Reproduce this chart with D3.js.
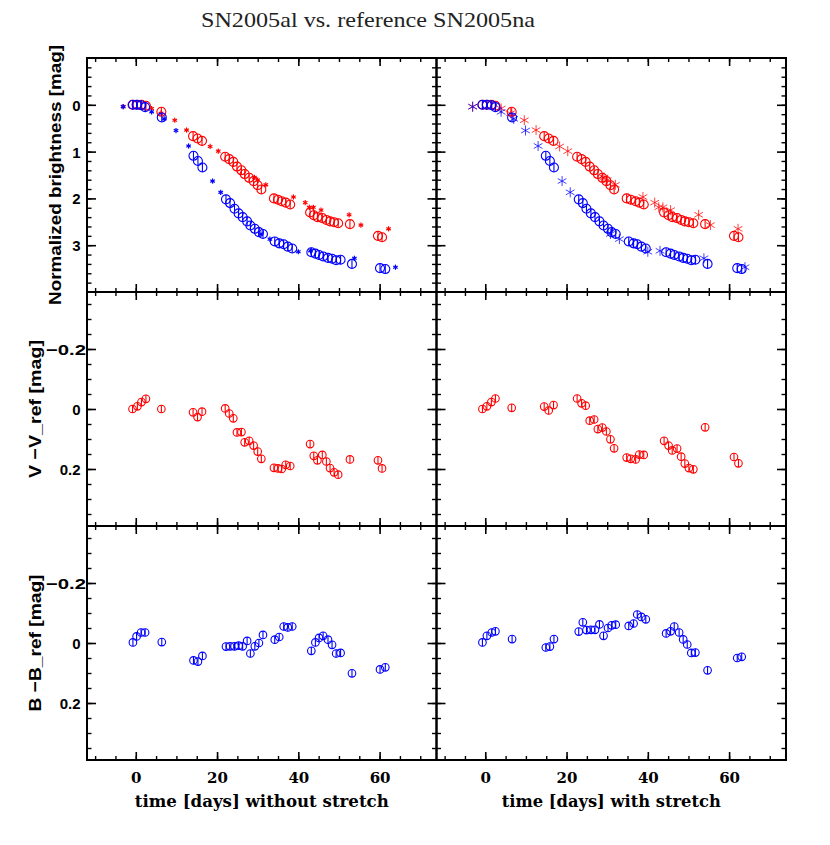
<!DOCTYPE html>
<html>
<head>
<meta charset="utf-8">
<script src="https://cdn.jsdelivr.net/npm/d3@7"></script>
<style>
  body { margin: 0; background: #fff; }
  svg { display: block; }
</style>
</head>
<body>
<div id="chart"></div>
<script>
// SN2005al data (V and B), times without / with stretch
const vTime = [-0.8,0.4,1.4,2.5,6.3,14.1,15.2,16.3,22.0,23.0,24.0,24.9,26.0,26.8,27.9,29.0,30.0,30.9,34.0,35.0,35.9,36.9,38.0,42.9,43.8,44.7,45.9,46.9,47.8,48.8,49.8,52.7,59.6,60.6]
const vTimeStretch = [-0.7,0.4,1.5,2.5,6.5,14.5,15.6,16.8,22.6,23.7,24.7,25.7,26.8,27.7,28.8,29.8,30.8,31.7,34.8,35.8,37.0,37.9,39.0,44.0,45.1,46.0,47.2,48.2,49.1,50.1,51.2,54.1,61.2,62.3]
const vMag = [0.00,0.00,0.00,0.02,0.15,0.67,0.72,0.77,1.11,1.16,1.22,1.32,1.40,1.48,1.56,1.63,1.72,1.81,2.00,2.03,2.06,2.09,2.13,2.30,2.36,2.40,2.42,2.46,2.49,2.51,2.53,2.55,2.80,2.83]
const vResid = [0.0,-0.009,-0.023,-0.034,0.0,0.011,0.027,0.009,-0.002,0.015,0.031,0.078,0.077,0.111,0.106,0.122,0.142,0.166,0.196,0.198,0.2,0.186,0.19,0.117,0.156,0.171,0.153,0.175,0.197,0.211,0.219,0.168,0.171,0.198]
const vResidStretch = [0.0,-0.009,-0.023,-0.035,-0.004,-0.008,0.005,-0.013,-0.035,-0.019,-0.011,0.039,0.035,0.067,0.062,0.075,0.101,0.131,0.162,0.166,0.168,0.152,0.153,0.106,0.122,0.138,0.132,0.159,0.182,0.197,0.201,0.061,0.16,0.181]

const bTime = [-0.7,0.2,1.3,2.3,6.4,14.2,15.3,16.4,22.2,23.2,24.3,25.3,26.3,27.4,28.2,29.3,30.3,31.3,34.2,35.3,36.4,37.4,38.5,43.2,44.2,45.1,46.1,47.3,48.3,49.3,50.4,53.2,60.1,61.4]
const bTimeStretch = [-0.7,0.4,1.6,2.5,6.6,14.9,15.9,16.9,23.0,24.0,24.9,26.0,27.0,28.1,29.1,30.2,31.1,32.1,35.3,36.5,37.4,38.4,39.5,44.5,45.6,46.5,47.7,48.7,49.7,50.7,51.7,54.7,62.0,63.1]
const bMag = [0.00,0.00,0.01,0.05,0.27,1.09,1.20,1.34,2.02,2.10,2.22,2.32,2.40,2.49,2.58,2.65,2.72,2.76,2.92,2.96,2.98,3.03,3.07,3.15,3.18,3.21,3.24,3.27,3.29,3.32,3.31,3.40,3.49,3.51]
const bResid = [-0.002,-0.022,-0.035,-0.035,-0.003,0.058,0.062,0.043,0.012,0.011,0.011,0.009,0.011,-0.007,0.035,0.011,0.0,-0.027,-0.011,-0.02,-0.055,-0.052,-0.055,0.026,-0.002,-0.017,-0.024,-0.011,0.006,0.035,0.033,0.101,0.088,0.081]
const bResidStretch = [-0.002,-0.024,-0.035,-0.039,-0.013,0.015,0.012,-0.013,-0.038,-0.069,-0.043,-0.044,-0.044,-0.062,-0.024,-0.05,-0.059,-0.061,-0.057,-0.065,-0.095,-0.087,-0.079,-0.032,-0.039,-0.055,-0.035,-0.012,0.005,0.033,0.032,0.091,0.05,0.046]

// reference SN2005na template points
const refVTime = [-3.1,3.9,6.2,9.6,12.5,18.3,20.3,29.2,30.0,32.0,38.8,41.7,42.7,43.7,45.6,52.5,55.4,62.2]
const refVMag = [0.04,0.08,0.18,0.33,0.54,0.89,0.99,1.55,1.61,1.71,1.97,2.09,2.19,2.19,2.25,2.35,2.57,2.65]
const refBTime = [-3.1,3.9,7.0,9.9,13.0,18.9,20.9,30.8,33.0,40.0,43.0,53.8,63.9]
const refBMag = [0.04,0.15,0.30,0.55,0.88,1.63,1.87,2.76,2.87,3.14,3.12,3.28,3.47]

const xMajor = [0, 20, 40, 60]
const magTicks = [0, 1, 2, 3]
const residTicks = [-0.2, 0, 0.2]
const xLabels = ["time [days] without stretch", "time [days] with stretch"]
const yLabels = ["Normalized brightness [mag]", "V \u2212V_ref [mag]", "B \u2212B_ref [mag]"]
const title = "SN2005al vs. reference SN2005na"

const WIDTH = 830, HEIGHT = 845
const LEFT = 87, TOP = 58
const PW = 349.5, PH = 234
const RED = "#ff0000", BLUE = "#0000ff"

const svg = d3.select("#chart").append("svg")
    .attr("width", WIDTH)
    .attr("height", HEIGHT)

svg.append("text")
    .attr("x", 368)
    .attr("y", 27)
    .attr("text-anchor", "middle")
    .attr("font-family", "Liberation Serif, serif")
    .attr("font-size", 22)
    .attr("fill", "#222")
    .attr("textLength", 334)
    .attr("lengthAdjust", "spacingAndGlyphs")
    .text(title)

const x = d3.scaleLinear().domain([-12, 74]).range([0, PW])
const yMag = d3.scaleLinear().domain([-1, 4]).range([0, PH])
const yRes = d3.scaleLinear().domain([-0.39, 0.39]).range([0, PH])

const fmt = d => Number.isInteger(d) ? String(d) : d3.format(".1f")(d).replace("-", "\u2212")

function drawPanel(col, row, yScale, major, minor, series, refs, big) {
    const g = svg.append("g")
        .attr("transform", `translate(${LEFT + col * PW}, ${TOP + row * PH})`)

    // minor ticks
    const minorX = d3.range(-10, 75, 5)
    ;[
        [d3.axisBottom(x).tickValues(minorX).tickSize(-4), `translate(0,${PH})`],
        [d3.axisTop(x).tickValues(minorX).tickSize(-4), null],
        [d3.axisLeft(yScale).tickValues(minor).tickSize(-4.5), null],
        [d3.axisRight(yScale).tickValues(minor).tickSize(-4.5), `translate(${PW},0)`]
    ].forEach(([ax, tr]) => {
        const a = g.append("g").call(ax.tickFormat(""))
        if (tr) a.attr("transform", tr)
        a.select(".domain").remove()
        a.selectAll("line").attr("stroke-width", 1.4)
    })

    // major ticks
    const xb = g.append("g").attr("transform", `translate(0,${PH})`)
        .call(d3.axisBottom(x).tickValues(xMajor).tickSize(-8).tickPadding(12)
            .tickFormat(row === 2 ? d3.format("d") : ""))
    const xt = g.append("g").call(d3.axisTop(x).tickValues(xMajor).tickSize(-8).tickFormat(""))
    const yl = g.append("g")
        .call(d3.axisLeft(yScale).tickValues(major).tickSize(-9).tickPadding(6.5)
            .tickFormat(col === 0 ? fmt : ""))
    const yr = g.append("g").attr("transform", `translate(${PW},0)`)
        .call(d3.axisRight(yScale).tickValues(major).tickSize(-9).tickFormat(""))
    ;[xb, xt, yl, yr].forEach(a => {
        a.select(".domain").remove()
        a.selectAll("line").attr("stroke-width", 1.6)
    })
    xb.selectAll("text")
        .attr("font-family", "DejaVu Serif, serif")
        .attr("font-weight", "bold")
        .attr("font-size", 15)
        .attr("fill", "#000")
    yl.selectAll("text")
        .attr("font-family", "Liberation Sans, Arial, sans-serif")
        .attr("font-weight", "bold")
        .attr("font-size", 15)
        .attr("dy", "0.36em")
        .attr("fill", "#000")
        .attr("textLength", d => d < 0 ? 40 : null)
        .attr("lengthAdjust", "spacingAndGlyphs")
        .attr("x", d => d < 0 ? -1 : -6.5)

    // reference asterisks
    const s = big ? 5 : 2.6
    refs.forEach(r => {
        r.t.forEach((t, i) => {
            const a = g.append("g")
                .attr("transform", `translate(${x(t)},${yScale(r.m[i])})`)
                .attr("stroke", r.color)
                .attr("stroke-width", big ? 1 : 1.2)
                .attr("stroke-opacity", big ? 0.75 : 1)
            a.append("line").attr("x1", 0).attr("x2", 0).attr("y1", -s).attr("y2", s)
            a.append("line").attr("x1", -s * 0.87).attr("x2", s * 0.87).attr("y1", -s / 2).attr("y2", s / 2)
            a.append("line").attr("x1", -s * 0.87).attr("x2", s * 0.87).attr("y1", s / 2).attr("y2", -s / 2)
        })
    })

    // data circles with error bars
    const rad = row === 0 ? 4.5 : 3.8
    series.forEach(sr => {
        const pts = g.selectAll(null)
            .data(sr.t.map((t, i) => ({ t: t, v: sr.v[i] })))
            .enter().append("g")
            .attr("transform", d => `translate(${x(d.t)},${yScale(d.v)})`)
            .attr("stroke", sr.color)
            .attr("fill", "none")
            .attr("stroke-width", 1.1)
        pts.append("circle").attr("r", rad)
        pts.append("line").attr("x1", 0).attr("x2", 0).attr("y1", -rad).attr("y2", rad)
    })

    // frame
    g.append("rect")
        .attr("width", PW).attr("height", PH)
        .attr("fill", "none")
        .attr("stroke", "#000")
        .attr("stroke-width", 2)

    if (row === 2) {
        g.append("text")
            .attr("x", PW / 2)
            .attr("y", PH + 47)
            .attr("text-anchor", "middle")
            .attr("font-family", "DejaVu Serif, serif")
            .attr("font-weight", "bold")
            .attr("font-size", 16)
            .attr("textLength", col === 0 ? 254 : 219)
            .attr("lengthAdjust", "spacingAndGlyphs")
            .text(xLabels[col])
    }
    if (col === 0) {
        const bx = row === 0 ? 61 : 41
        g.append("text")
            .attr("transform", `translate(${bx - LEFT},${PH / 2}) rotate(-90)`)
            .attr("text-anchor", "middle")
            .attr("font-family", "Liberation Sans, Arial, sans-serif")
            .attr("font-weight", "bold")
            .attr("font-size", 17)
            .attr("textLength", [260, 138, 137][row])
            .attr("lengthAdjust", "spacingAndGlyphs")
            .text(yLabels[row])
    }
}

const magMinor = d3.range(-0.8, 4, 0.2).map(d => +d.toFixed(1))
const resMinor = d3.range(-0.35, 0.36, 0.05).map(d => +d.toFixed(2))

const refs = [
    { t: refVTime, m: refVMag, color: RED },
    { t: refBTime, m: refBMag, color: BLUE }
]

drawPanel(0, 0, yMag, magTicks, magMinor,
    [{ t: vTime, v: vMag, color: RED }, { t: bTime, v: bMag, color: BLUE }], refs, false)
drawPanel(1, 0, yMag, magTicks, magMinor,
    [{ t: vTimeStretch, v: vMag, color: RED }, { t: bTimeStretch, v: bMag, color: BLUE }], refs, true)
drawPanel(0, 1, yRes, residTicks, resMinor, [{ t: vTime, v: vResid, color: RED }], [], false)
drawPanel(1, 1, yRes, residTicks, resMinor, [{ t: vTimeStretch, v: vResidStretch, color: RED }], [], false)
drawPanel(0, 2, yRes, residTicks, resMinor, [{ t: bTime, v: bResid, color: BLUE }], [], false)
drawPanel(1, 2, yRes, residTicks, resMinor, [{ t: bTimeStretch, v: bResidStretch, color: BLUE }], [], false)
</script>
</body>
</html>
